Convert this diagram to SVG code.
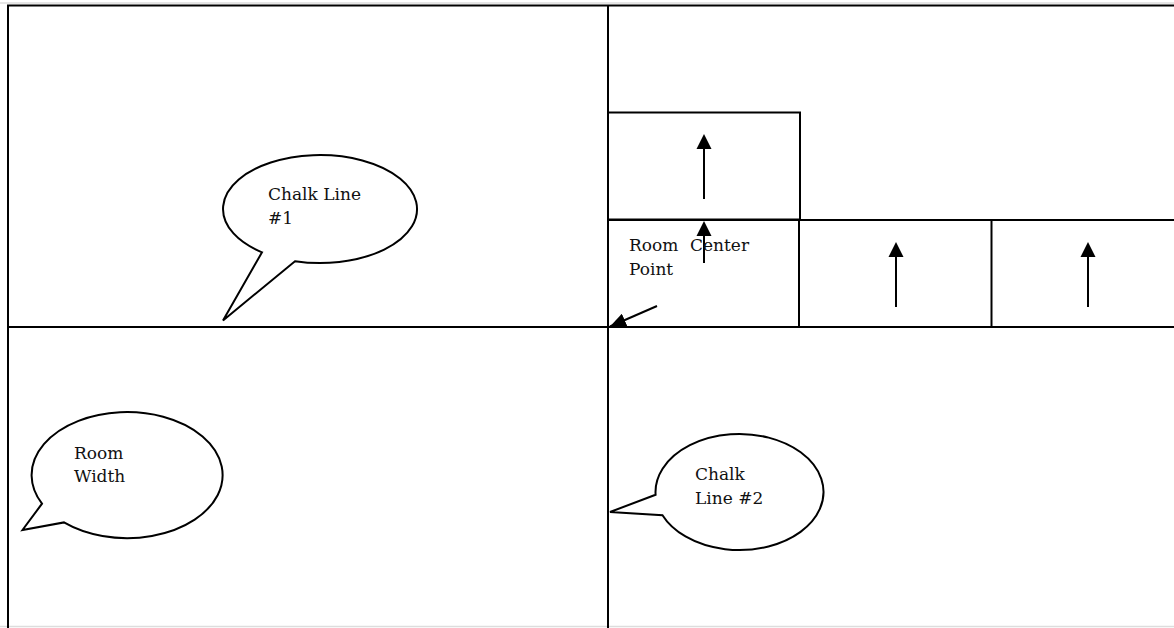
<svg xmlns="http://www.w3.org/2000/svg" width="1174" height="628" viewBox="0 0 1174 628">
<style>
.ln{stroke:#000;stroke-width:2;fill:none}
.bub{stroke:#000;stroke-width:2;fill:#fff;stroke-linejoin:miter}
.t{font-family:"DejaVu Serif","Liberation Serif",serif;font-size:17px;fill:#111}
.shaft{stroke:#000;stroke-width:2}
</style>
<defs>
<marker id="ah" viewBox="0 0 16 14" refX="16" refY="7" markerWidth="16" markerHeight="14" markerUnits="userSpaceOnUse" orient="auto">
<path d="M0,0 L16,7 L0,14 z" fill="#000"/>
</marker>
</defs>
<rect width="1174" height="628" fill="#fff"/>
<g id="room">
<line x1="0" y1="3" x2="1174" y2="3" stroke="#ddd" stroke-width="1.5"/>
<line x1="0" y1="626.5" x2="1174" y2="626.5" stroke="#ddd" stroke-width="1.5"/>
<line class="ln" x1="7" y1="5.5" x2="1174" y2="5.5" stroke-width="2.5"/>
<line class="ln" x1="8" y1="5" x2="8" y2="628" stroke-width="2.5"/>
<line class="ln" x1="608" y1="5" x2="608" y2="628" stroke-width="2"/>
<line class="ln" x1="8" y1="327" x2="1174" y2="327"/>
</g>
<g id="tiles">
<rect class="ln" x="608" y="112.5" width="192" height="107"/>
<line class="ln" x1="608" y1="220" x2="1174" y2="220"/>
<line class="ln" x1="799" y1="220" x2="799" y2="327"/>
<line class="ln" x1="991.5" y1="220" x2="991.5" y2="327" stroke-width="3"/>
</g>
<g id="connectors">
<line class="shaft" x1="704" y1="199" x2="704" y2="148"/>
<polygon points="704,134 696.5,149 711.5,149" fill="#000"/>
<line class="shaft" x1="704" y1="263" x2="704" y2="235"/>
<polygon points="704,221 696.5,236 711.5,236" fill="#000"/>
<line class="shaft" x1="896" y1="307" x2="896" y2="256"/>
<polygon points="896,242 888.5,257 903.5,257" fill="#000"/>
<line class="shaft" x1="1088" y1="307" x2="1088" y2="256"/>
<polygon points="1088,242 1080.5,257 1095.5,257" fill="#000"/>
<line class="shaft" x1="657" y1="306" x2="610" y2="326.5" marker-end="url(#ah)"/>
</g>
<g id="center-label">
<text class="t" x="629" y="251">Room</text>
<text class="t" x="690" y="251">Center</text>
<text class="t" x="629" y="275">Point</text>
</g>
<g id="bubble-chalk1">
<path class="bub" d="M262,252.3 A97,54 0 1 1 295,261.2 L223,320.5 Z"/>
<text class="t" x="268" y="200">Chalk Line</text>
<text class="t" x="268" y="224">#1</text>
</g>
<g id="bubble-width">
<path class="bub" d="M42,503.7 A95.5,63 0 1 1 64,522.4 L22.5,530 Z"/>
<text class="t" x="74" y="459">Room</text>
<text class="t" x="74" y="482">Width</text>
</g>
<g id="bubble-chalk2">
<path class="bub" d="M655.6,494.8 A84,58 0 1 1 662.5,515.2 L610,512 Z"/>
<text class="t" x="695" y="480">Chalk</text>
<text class="t" x="695" y="504">Line #2</text>
</g>
</svg>
